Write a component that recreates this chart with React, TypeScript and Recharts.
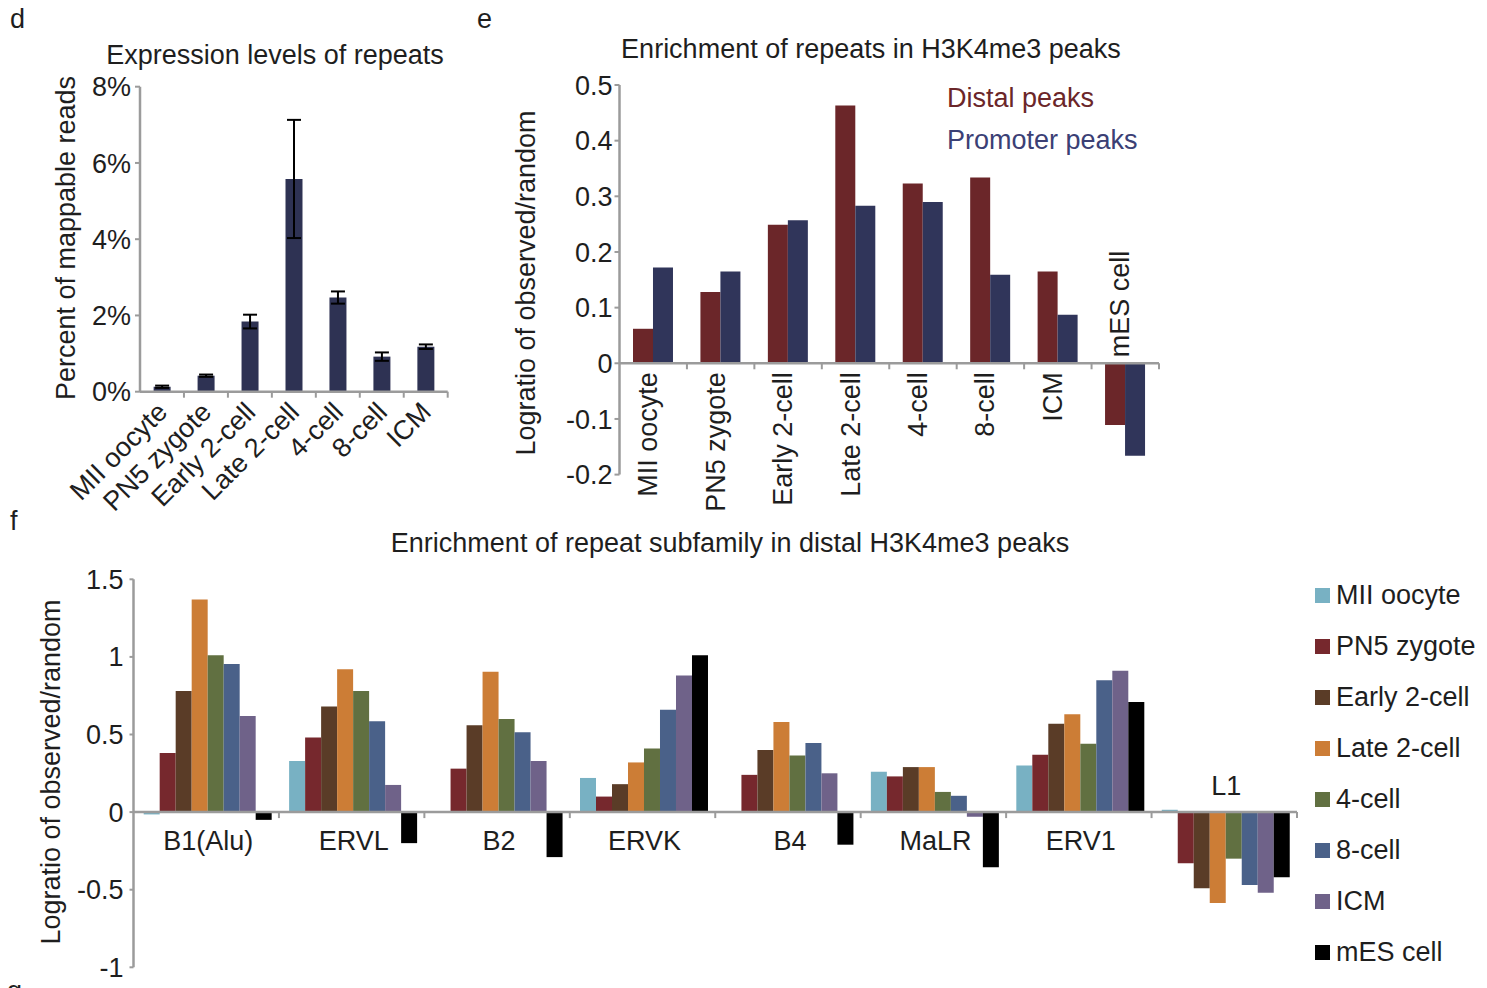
import { Bar, BarChart, ErrorBar, Legend, ReferenceLine, XAxis, YAxis } from "recharts"

const FONT = '"Liberation Sans", Arial, Helvetica, sans-serif'
const TEXT = "#1e1e1e"
const AXIS = "#9b9b9b"
const FS = 27

// d: expression levels of repeats (percent of mappable reads)
const exprStages = ["MII oocyte", "PN5 zygote", "Early 2-cell", "Late 2-cell", "4-cell", "8-cell", "ICM"]
const exprPct = [0.13, 0.42, 1.84, 5.58, 2.47, 0.92, 1.18]
const exprErr = [0.03, 0.03, 0.18, 1.55, 0.16, 0.11, 0.06]
const exprTicks = [0, 2, 4, 6, 8]

// e: enrichment of repeats in H3K4me3 peaks
const peakStages = ["MII oocyte", "PN5 zygote", "Early 2-cell", "Late 2-cell", "4-cell", "8-cell", "ICM", "mES cell"]
const distalPeaks = [0.062, 0.128, 0.249, 0.463, 0.323, 0.334, 0.165, -0.111]
const promoterPeaks = [0.172, 0.165, 0.257, 0.283, 0.29, 0.159, 0.087, -0.166]
const peakTicks = [-0.2, -0.1, 0, 0.1, 0.2, 0.3, 0.4, 0.5]

// f: enrichment of repeat subfamily in distal peaks
const families = ["B1(Alu)", "ERVL", "B2", "ERVK", "B4", "MaLR", "ERV1", "L1"]
const miiOocyte = [-0.015, 0.33, 0, 0.22, 0, 0.26, 0.3, 0.015]
const pn5Zygote = [0.38, 0.48, 0.28, 0.1, 0.24, 0.23, 0.37, -0.33]
const early2Cell = [0.78, 0.68, 0.56, 0.18, 0.4, 0.29, 0.57, -0.49]
const late2Cell = [1.37, 0.92, 0.905, 0.32, 0.58, 0.29, 0.63, -0.585]
const fourCell = [1.01, 0.78, 0.6, 0.41, 0.365, 0.13, 0.44, -0.3]
const eightCell = [0.955, 0.585, 0.515, 0.66, 0.445, 0.105, 0.85, -0.47]
const icm = [0.62, 0.175, 0.33, 0.88, 0.25, -0.03, 0.91, -0.52]
const mesCell = [-0.05, -0.2, -0.29, 1.01, -0.21, -0.355, 0.71, -0.42]
const famSeries = [miiOocyte, pn5Zygote, early2Cell, late2Cell, fourCell, eightCell, icm, mesCell]
const famTicks = [-1, -0.5, 0, 0.5, 1, 1.5]

const STAGE_COLORS = ["#78b1c3", "#76282d", "#5a3c27", "#cc7d36", "#617041", "#4a6189", "#6f6289", "#000000"]
const DISTAL = "#6b2629"
const PROMOTER = "#30355a"
const EXPR = "#2e3253"

const exprData = exprStages.map((s, i) => ({ stage: s, pct: exprPct[i], err: exprErr[i] }))
const peakData = peakStages.map((s, i) => ({ stage: s, distal: distalPeaks[i], promoter: promoterPeaks[i] }))
const famData = families.map((f, i) => {
  const row: Record<string, string | number> = { family: f }
  famSeries.forEach((s, k) => (row[`s${k}`] = s[i]))
  return row
})

// layout of each panel (chart box, plot margins)
const D = { left: 0, top: 0, w: 470, h: 520, mt: 86.7, ml: 140, mr: 22.3, xh: 128.3 }
const E = { left: 470, top: 0, w: 700, h: 520, mt: 85, ml: 149.5, mr: 11, mb: 44.4 }
const F = { left: 0, top: 500, w: 1487, h: 488, mt: 79.3, ml: 133.5, mr: 190, mb: 19.7 }

const dPlotW = D.w - D.ml - D.mr
const dBand = dPlotW / exprStages.length
const dAxisY = D.h - D.xh
const ePlotW = E.w - E.ml - E.mr
const eBand = ePlotW / peakStages.length
const ePlotH = E.h - E.mt - E.mb - 1
const eZeroY = E.mt + (ePlotH * 0.5) / 0.7
const fPlotW = F.w - F.ml - F.mr
const fBand = fPlotW / families.length
const fPlotH = F.h - F.mt - F.mb - 1
const fZeroY = F.mt + (fPlotH * 1.5) / 2.5

function ExprTick(props: any) {
  const { x, payload, index } = props
  const last = index === exprStages.length - 1
  const tx = x + 7
  const ty = dAxisY + 22
  return (
    <g>
      {index > 0 && <line x1={x - dBand / 2} x2={x - dBand / 2} y1={dAxisY} y2={dAxisY + 6} stroke={AXIS} strokeWidth={2} />}
      {last && <line x1={x + dBand / 2} x2={x + dBand / 2} y1={dAxisY} y2={dAxisY + 6} stroke={AXIS} strokeWidth={2} />}
      <text x={tx} y={ty} transform={`rotate(-45, ${tx}, ${ty})`} textAnchor="end" fontSize={FS} fill={TEXT} fontFamily={FONT}>
        {payload.value}
      </text>
    </g>
  )
}

function PeakTick(props: any) {
  const { x, payload, index } = props
  const last = index === peakStages.length - 1
  const above = distalPeaks[index] < 0 && promoterPeaks[index] < 0
  const tx = x + 4
  const ty = above ? eZeroY - 6 : eZeroY + 9
  return (
    <g>
      {index > 0 && <line x1={x - eBand / 2} x2={x - eBand / 2} y1={eZeroY} y2={eZeroY + 6} stroke={AXIS} strokeWidth={2} />}
      {last && <line x1={x + eBand / 2} x2={x + eBand / 2} y1={eZeroY} y2={eZeroY + 6} stroke={AXIS} strokeWidth={2} />}
      <text x={tx} y={ty} transform={`rotate(-90, ${tx}, ${ty})`} textAnchor={above ? "start" : "end"} fontSize={FS} fill={TEXT} fontFamily={FONT}>
        {payload.value}
      </text>
    </g>
  )
}

function FamTick(props: any) {
  const { x, payload, index } = props
  const last = index === families.length - 1
  const sum = famSeries.reduce((a, s) => a + s[index], 0)
  const ty = sum < 0 ? fZeroY - 17 : fZeroY + 38
  return (
    <g>
      {index > 0 && <line x1={x - fBand / 2} x2={x - fBand / 2} y1={fZeroY} y2={fZeroY + 6} stroke={AXIS} strokeWidth={2} />}
      {last && <line x1={x + fBand / 2} x2={x + fBand / 2} y1={fZeroY} y2={fZeroY + 6} stroke={AXIS} strokeWidth={2} />}
      <text x={x + 2} y={ty} textAnchor="middle" fontSize={FS} fill={TEXT} fontFamily={FONT}>
        {payload.value}
      </text>
    </g>
  )
}

const yTick = { fontSize: FS, fill: TEXT, fontFamily: FONT }
const axisLine = { stroke: AXIS, strokeWidth: 2.5 }
const tickLine = { stroke: AXIS, strokeWidth: 2 }

function PeakLegend() {
  return (
    <div style={{ fontFamily: FONT, fontSize: FS, lineHeight: "42px", whiteSpace: "nowrap" }}>
      <div style={{ color: DISTAL }}>Distal peaks</div>
      <div style={{ color: "#3b4075" }}>Promoter peaks</div>
    </div>
  )
}

function FamLegend() {
  return (
    <div style={{ fontFamily: FONT, fontSize: FS, lineHeight: "51px", color: TEXT, whiteSpace: "nowrap" }}>
      {peakStages.map((s, i) => (
        <div key={s} style={{ display: "flex", alignItems: "center", height: 51 }}>
          <span style={{ width: 15, height: 15, background: STAGE_COLORS[i], marginRight: 6, display: "inline-block" }} />
          <span>{s}</span>
        </div>
      ))}
    </div>
  )
}

export default function App() {
  return (
    <div style={{ position: "absolute", left: 0, top: 0, width: 1487, height: 988, overflow: "hidden", background: "#fff", fontFamily: FONT }}>
      {/* d */}
      <div style={{ position: "absolute", left: D.left, top: D.top }}>
        <BarChart width={D.w} height={D.h} data={exprData} margin={{ top: D.mt, left: 0, right: D.mr, bottom: 0 }} barCategoryGap="31%">
          <XAxis dataKey="stage" height={D.xh} axisLine={axisLine} tickLine={false} tick={<ExprTick />} interval={0} />
          <YAxis
            width={D.ml}
            domain={[0, 8]}
            ticks={exprTicks}
            tickFormatter={(v) => `${v}%`}
            axisLine={axisLine}
            tickLine={tickLine}
            tickSize={5}
            tickMargin={4}
            tick={yTick}
          />
          <Bar dataKey="pct" fill={EXPR} isAnimationActive={false}>
            <ErrorBar dataKey="err" width={7} stroke="#000" strokeWidth={2} isAnimationActive={false} />
          </Bar>
        </BarChart>
      </div>

      {/* e */}
      <div style={{ position: "absolute", left: E.left, top: E.top }}>
        <BarChart width={E.w} height={E.h} data={peakData} margin={{ top: E.mt, left: 0, right: E.mr, bottom: E.mb }} barCategoryGap="20%" barGap={0}>
          <XAxis dataKey="stage" height={1} axisLine={false} tickLine={false} tick={<PeakTick />} interval={0} />
          <YAxis
            width={E.ml}
            domain={[-0.2, 0.5]}
            ticks={peakTicks}
            axisLine={axisLine}
            tickLine={tickLine}
            tickSize={5}
            tickMargin={2}
            tick={yTick}
          />
          <Bar dataKey="distal" name="Distal peaks" fill={DISTAL} isAnimationActive={false} />
          <Bar dataKey="promoter" name="Promoter peaks" fill={PROMOTER} isAnimationActive={false} />
          <ReferenceLine y={0} stroke={AXIS} strokeWidth={2.5} />
          <Legend layout="vertical" align="center" verticalAlign="middle" content={<PeakLegend />} wrapperStyle={{ left: 477, top: 76.6, width: 210, height: 84 }} />
        </BarChart>
      </div>

      {/* f */}
      <div style={{ position: "absolute", left: F.left, top: F.top }}>
        <BarChart width={F.w} height={F.h} data={famData} margin={{ top: F.mt, left: 0, right: F.mr, bottom: F.mb }} barCategoryGap="7%" barGap={0}>
          <XAxis dataKey="family" height={1} axisLine={false} tickLine={false} tick={<FamTick />} interval={0} />
          <YAxis
            width={F.ml}
            domain={[-1, 1.5]}
            ticks={famTicks}
            axisLine={axisLine}
            tickLine={tickLine}
            tickSize={4}
            tickMargin={6}
            tick={yTick}
          />
          {famSeries.map((_, k) => (
            <Bar key={k} dataKey={`s${k}`} name={peakStages[k]} fill={STAGE_COLORS[k]} isAnimationActive={false} />
          ))}
          <ReferenceLine y={0} stroke={AXIS} strokeWidth={2.5} />
          <Legend layout="vertical" align="center" verticalAlign="middle" content={<FamLegend />} wrapperStyle={{ left: 1315, top: 70.1, width: 172, height: 408 }} />
        </BarChart>
      </div>

      {/* titles, axis titles and panel letters */}
      <svg width={1487} height={988} style={{ position: "absolute", left: 0, top: 0, pointerEvents: "none" }} fontFamily={FONT} fontSize={FS} fill={TEXT}>
        <text x={10} y={28}>d</text>
        <text x={477} y={28}>e</text>
        <text x={10} y={530}>f</text>
        <text x={7} y={1000}>g</text>
        <text x={275} y={64} textAnchor="middle">Expression levels of repeats</text>
        <text x={871} y={58} textAnchor="middle">Enrichment of repeats in H3K4me3 peaks</text>
        <text x={730} y={552} textAnchor="middle">Enrichment of repeat subfamily in distal H3K4me3 peaks</text>
        <text x={74.5} y={238} textAnchor="middle" transform="rotate(-90, 74.5, 238)">Percent of mappable reads</text>
        <text x={534.5} y={283} textAnchor="middle" transform="rotate(-90, 534.5, 283)">Logratio of observed/random</text>
        <text x={59.5} y={772} textAnchor="middle" transform="rotate(-90, 59.5, 772)">Logratio of observed/random</text>
      </svg>
    </div>
  )
}
